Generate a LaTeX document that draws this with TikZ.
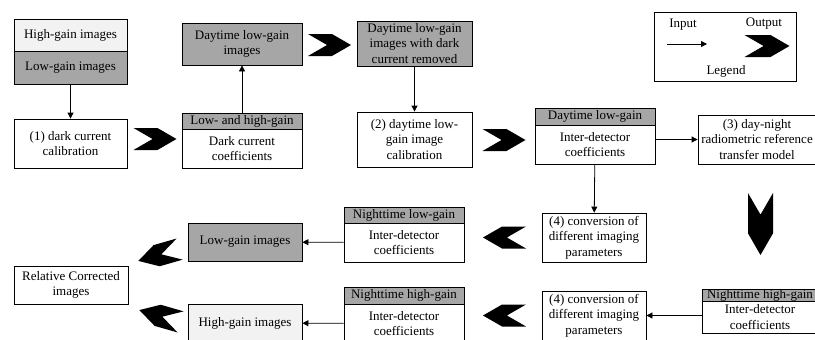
\documentclass[tikz,border=0pt]{standalone}
\usepackage{fontspec}
\setmainfont{Liberation Serif}
\usetikzlibrary{arrows.meta,shapes.symbols}
\definecolor{gaindark}{RGB}{166,166,166}
\definecolor{gainlight}{RGB}{242,242,242}
\tikzset{
	box/.style={draw, line width=0.8pt, align=center, inner sep=0pt,
		font=\fontsize{13}{15.5}\selectfont},
	darkbox/.style={box, fill=gaindark},
	lightbox/.style={box, fill=gainlight},
	flow/.style={-{Triangle[length=6pt,width=6pt]}, line width=0.8pt},
	chevron/.style={signal, signal from=west, signal to=east, fill=black,
		draw=none, inner sep=0pt, minimum width=43, minimum height=22,
		signal pointer angle=60},
	keytext/.style={font=\fontsize{13}{15.5}\selectfont, inner sep=0pt}
}
\begin{document}
\begin{tikzpicture}[x=1pt,y=-1pt]
	\useasboundingbox (0,0) rectangle (815,340);

	% Nodes: day branch
	\node[lightbox, minimum width=113, minimum height=32] (hi) at (70.5,35) {High-gain images};
	\node[darkbox, minimum width=113, minimum height=33] (lo) at (70.5,67.5) {Low-gain images};
	\node[box, minimum width=113, minimum height=49] (darkcal) at (70.5,143.5) {(1) dark current\\calibration};
	\node[darkbox, minimum width=120, minimum height=16] (dchead) at (242,121) {Low- and high-gain};
	\node[box, minimum width=120, minimum height=39] (dcbody) at (242,148.5) {Dark current\\coefficients};
	\node[darkbox, minimum width=120, minimum height=42] (daylow) at (242,44) {Daytime low-gain\\images};
	\node[darkbox, minimum width=115, minimum height=45] (dayrem) at (414.5,43.5) {Daytime low-gain\\images with dark\\current removed};
	\node[box, minimum width=115, minimum height=55] (daycal) at (414.5,139.5) {(2) daytime low-\\gain image\\calibration};
	\node[darkbox, minimum width=120, minimum height=17] (idhead) at (595,116.5) {Daytime low-gain};
	\node[box, minimum width=120, minimum height=39] (idbody) at (595,144.5) {Inter-detector\\coefficients};
	\node[box, minimum width=118, minimum height=49] (transfer) at (757,139.5) {(3) day-night\\radiometric reference\\transfer model};

	% Nodes: night branch
	\node[box, minimum width=104, minimum height=49] (convlow) at (594,237.5) {(4) conversion of\\different imaging\\parameters};
	\node[box, minimum width=104, minimum height=49] (convhigh) at (594,315.5) {(4) conversion of\\different imaging\\parameters};
	\node[darkbox, minimum width=116, minimum height=12] (nhhead) at (760,295) {Nighttime high-gain};
	\node[box, minimum width=116, minimum height=32] (nhbody) at (760,317) {Inter-detector\\coefficients};
	\node[darkbox, minimum width=120, minimum height=16] (nlhead) at (404,215) {Nighttime low-gain};
	\node[box, minimum width=120, minimum height=39] (nlbody) at (404,242.5) {Inter-detector\\coefficients};
	\node[darkbox, minimum width=120, minimum height=17] (nmhead) at (404,295.5) {Nighttime high-gain};
	\node[box, minimum width=120, minimum height=39] (nmbody) at (404,323.5) {Inter-detector\\coefficients};
	\node[darkbox, minimum width=114, minimum height=38] (lowout) at (245,242) {Low-gain images};
	\node[lightbox, minimum width=114, minimum height=38] (highout) at (245,323) {High-gain images};
	\node[box, minimum width=114, minimum height=38] (corrected) at (71,285) {Relative Corrected\\images};

	% Output chevrons
	\node[chevron] (c1) at (155,139) {};
	\node[chevron] (c2) at (329.5,45) {};
	\node[chevron] (c3) at (504,140) {};
	\node[chevron, rotate=-90, minimum width=62, minimum height=25] (c4) at (760.5,224) {};
	\node[chevron, rotate=180] (c5) at (504.5,237.5) {};
	\node[chevron, rotate=180] (c6) at (504.5,315.5) {};
	\node[chevron, rotate=196] (c7) at (159,255) {};
	\node[chevron, rotate=164] (c8) at (160,316) {};

	% Input arrows
	\draw[flow] (lo) -- (darkcal);
	\draw[flow] (dchead) -- (daylow);
	\draw[flow] (dayrem) -- (daycal);
	\draw[flow] (idbody.east |- transfer.west) -- (transfer.west);
	\draw[flow] (idbody) -- (convlow);
	\draw[flow] (nhbody.west |- convhigh.east) -- (convhigh.east);
	\draw[flow] (nlbody) -- (lowout);
	\draw[flow] (nmbody) -- (highout);

	% Legend
	\node[box, minimum width=142, minimum height=69] (legend) at (725,46.5) {};
	\node[keytext] (inlabel) at (683,25) {Input};
	\node[keytext] (outlabel) at (764,24) {Output};
	\node[keytext] (legendlabel) at (726,71) {Legend};
	\coordinate (keyA) at (667,44);
	\coordinate (keyB) at (707,44);
	\draw[flow] (keyA) -- (keyB);
	\node[chevron, minimum width=45] (outkey) at (767,46) {};
\end{tikzpicture}
\end{document}
